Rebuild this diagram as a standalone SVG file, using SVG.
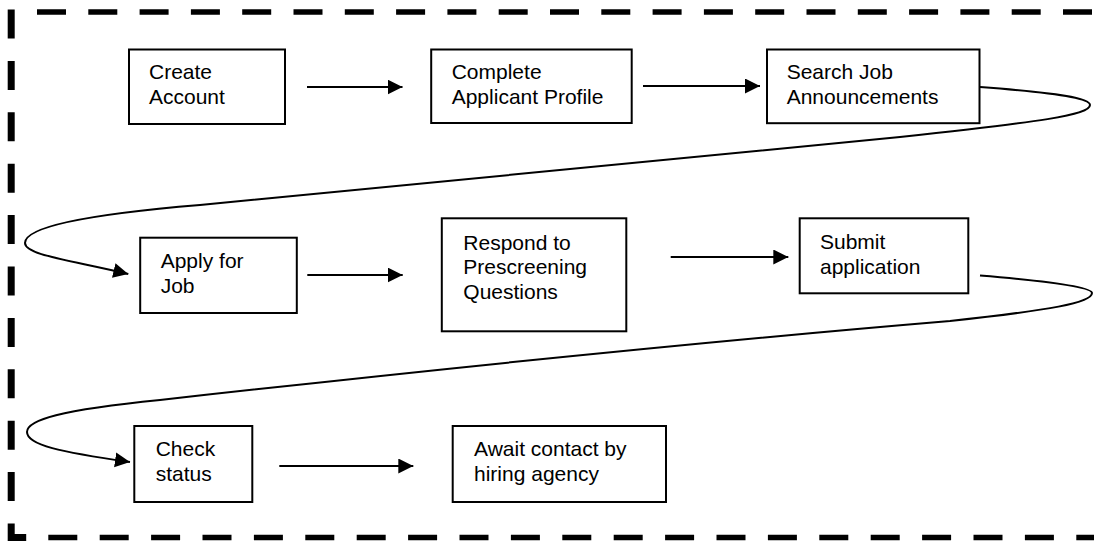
<svg xmlns="http://www.w3.org/2000/svg" width="1094" height="544" viewBox="0 0 1094 544">
<style>
  .box { fill: #ffffff; stroke: #000000; stroke-width: 2; }
  .lbl { font-family: "Liberation Sans", Arial, sans-serif; font-size: 21px; fill: #000000; }
  .conn { fill: none; stroke: #000000; stroke-width: 2; }
  .border { fill: none; stroke: #000000; stroke-dasharray: 29 22.4; }
</style>
<defs>
  <marker id="arrow" markerUnits="userSpaceOnUse" markerWidth="16" markerHeight="16" refX="15" refY="7.5" orient="auto">
    <path d="M0,0 L15,7.5 L0,15 Z" fill="#000000"/>
  </marker>
</defs>
<rect x="0" y="0" width="1094" height="544" fill="#ffffff"/>
<g id="border">
  <path class="border" d="M11.2,9.5 V537.5 H28" stroke-width="7"/>
  <path class="border" d="M48.3,537.5 H1100" stroke-width="5.5"/>
  <path class="border" d="M37,12 H1100" stroke-width="5.5" style="stroke-dasharray:29 22.3"/>
</g>
<g id="connectors">
  <path class="conn" d="M307,87 H402.5" marker-end="url(#arrow)"/>
  <path class="conn" d="M643,86 H760" marker-end="url(#arrow)"/>
  <path class="conn" d="M307.3,275 H402.7" marker-end="url(#arrow)"/>
  <path class="conn" d="M670.7,257 H788.3" marker-end="url(#arrow)"/>
  <path class="conn" d="M279.3,466 H413.3" marker-end="url(#arrow)"/>
  <path class="conn" d="M980,87 C1060,93 1090,98 1090,105 C1090,115 1040,122 900,137 L200,205 C80,215 25,228 25,243 C25,255 70,260 128.3,274" marker-end="url(#arrow)"/>
  <path class="conn" d="M980,275.5 C1060,282 1092,288 1092,293 C1092,303 1050,310 950,321 C700,342 410,372 160,400 C60,410 27,420 27,432 C27,445 60,452 130,462" marker-end="url(#arrow)"/>
</g>
<g id="node-create-account">
  <rect class="box" x="129" y="49.5" width="156" height="74.5"/>
  <text class="lbl" x="149" y="79.3">Create</text>
  <text class="lbl" x="149" y="104.3">Account</text>
</g>
<g id="node-complete-profile">
  <rect class="box" x="431.2" y="49.5" width="200.5" height="73.5"/>
  <text class="lbl" x="451.7" y="79">Complete</text>
  <text class="lbl" x="451.7" y="104">Applicant Profile</text>
</g>
<g id="node-search-jobs">
  <rect class="box" x="767" y="49.5" width="212.5" height="73.7"/>
  <text class="lbl" x="786.7" y="79">Search Job</text>
  <text class="lbl" x="786.7" y="104">Announcements</text>
</g>
<g id="node-apply">
  <rect class="box" x="140.2" y="237.7" width="156.6" height="75.3"/>
  <text class="lbl" x="160.7" y="267.7">Apply for</text>
  <text class="lbl" x="160.7" y="292.5">Job</text>
</g>
<g id="node-respond">
  <rect class="box" x="441.8" y="218.3" width="184.5" height="113"/>
  <text class="lbl" x="463.3" y="249.5">Respond to</text>
  <text class="lbl" x="463.3" y="274">Prescreening</text>
  <text class="lbl" x="463.3" y="298.5">Questions</text>
</g>
<g id="node-submit">
  <rect class="box" x="799.7" y="218.3" width="168.6" height="75"/>
  <text class="lbl" x="820" y="249">Submit</text>
  <text class="lbl" x="820" y="273.5">application</text>
</g>
<g id="node-check-status">
  <rect class="box" x="134.3" y="426" width="118" height="76"/>
  <text class="lbl" x="155.7" y="456">Check</text>
  <text class="lbl" x="155.7" y="480.7">status</text>
</g>
<g id="node-await-contact">
  <rect class="box" x="452.7" y="426" width="213.3" height="76"/>
  <text class="lbl" x="474" y="456">Await contact by</text>
  <text class="lbl" x="474" y="480.7">hiring agency</text>
</g>
</svg>
